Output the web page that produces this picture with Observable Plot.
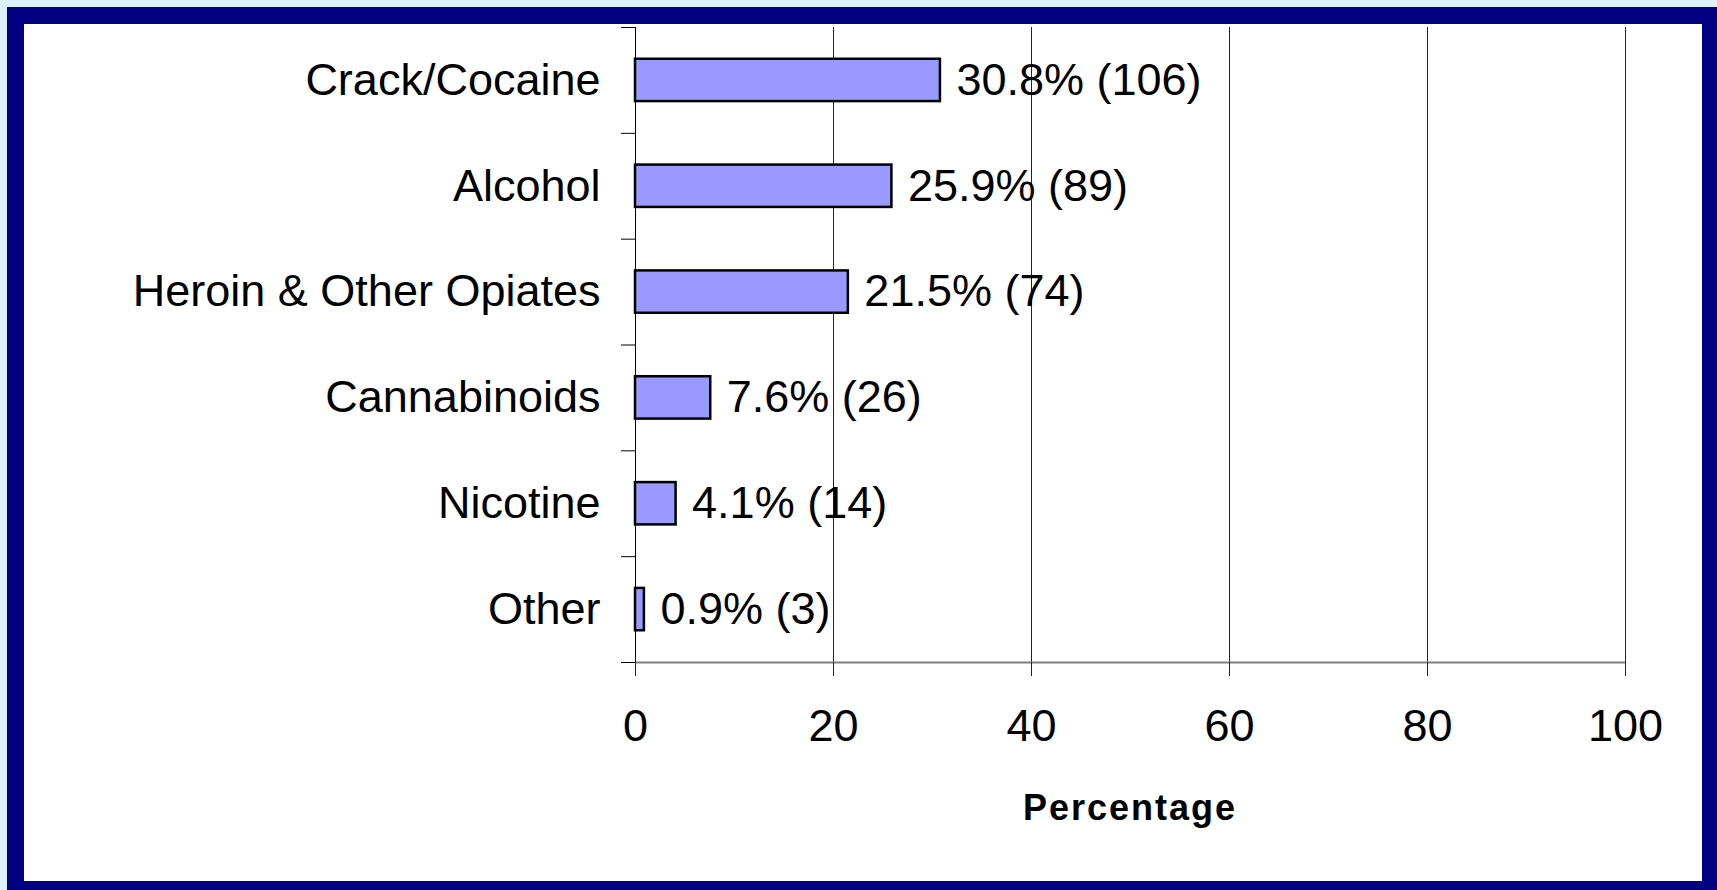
<!DOCTYPE html>
<html>
<head>
<meta charset="utf-8">
<script src="https://cdn.jsdelivr.net/npm/d3@7"></script>
<script src="https://cdn.jsdelivr.net/npm/@observablehq/plot@0.6"></script>
<style>
  html, body { margin: 0; padding: 0; }
  body { width: 1717px; height: 890px; background: #dcf0fe; position: relative; overflow: hidden;
         font-family: "Liberation Sans", Arial, sans-serif; }
  #navy { position: absolute; left: 7px; top: 7px; width: 1710px; height: 883px; background: #000080; }
  #white { position: absolute; left: 24px; top: 24px; width: 1678px; height: 857px; background: #ffffff; }
  #chart { position: absolute; left: 0; top: 0; }
  #xlabel { position: absolute; left: 635px; width: 990px; top: 790px; text-align: center;
            font: bold 36px/36px "Liberation Sans", Arial, sans-serif; letter-spacing: 2px; color: #000; }
</style>
</head>
<body>
<div id="navy"></div>
<div id="white"></div>
<div id="chart"></div>
<div id="xlabel">Percentage</div>
<script>
const categories = ["Crack/Cocaine", "Alcohol", "Heroin & Other Opiates", "Cannabinoids", "Nicotine", "Other"];
const percentages = [30.8, 25.9, 21.5, 7.6, 4.1, 0.9];
const counts = [106, 89, 74, 26, 14, 3];
const xTicks = [0, 20, 40, 60, 80, 100];

const data = categories.map((c, i) => ({
  category: c, i, pct: percentages[i], n: counts[i],
  label: `${percentages[i]}% (${counts[i]})`
}));
const centers = data.map(d => d.i);
const bounds = [-0.5, ...centers.map(i => i + 0.5)];
const half = 0.2;
const font = 45;

const chart = Plot.plot({
  width: 1717,
  height: 890,
  marginLeft: 635,
  marginRight: 92,
  marginTop: 27,
  marginBottom: 228,
  style: { background: "transparent", color: "black", fontFamily: "'Liberation Sans', Arial, sans-serif", overflow: "visible" },
  x: { domain: [0, 100] },
  y: { domain: [-0.5, categories.length - 0.5], reverse: true },
  marks: [
    Plot.ruleX(xTicks.slice(1), { stroke: "#222", strokeWidth: 1 }),
    Plot.ruleY([bounds[bounds.length - 1]], { x1: 0, x2: 100, stroke: "#808080", strokeWidth: 2 }),
    Plot.ruleX([0], { stroke: "#000", strokeWidth: 1 }),
    Plot.rectX(data, { x1: 0, x2: "pct", y1: d => d.i - half, y2: d => d.i + half,
      fill: "#9999ff", stroke: "#000", strokeWidth: 2.5 }),
    Plot.text(data, { x: "pct", y: "i", text: "label", textAnchor: "start", dx: 16, fontSize: font, fill: "#000" }),
    Plot.axisY({ ticks: centers, tickFormat: i => categories[i], tickSize: 0, tickPadding: 35, fontSize: font, label: null }),
    Plot.axisY({ ticks: bounds, tickFormat: () => "", tickSize: 14, stroke: "#000", label: null }),
    Plot.axisX({ ticks: xTicks, tickSize: 14, tickPadding: 33, fontSize: font, stroke: "#222", label: null })
  ]
});
document.getElementById("chart").appendChild(chart);
</script>
</body>
</html>
